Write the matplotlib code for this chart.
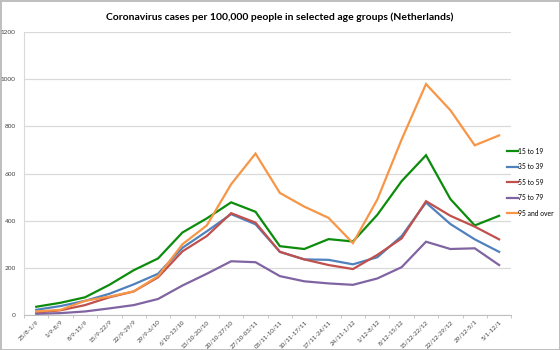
import numpy as np
import matplotlib
matplotlib.use("Agg")
import matplotlib.pyplot as plt

plt.rcParams["font.family"] = ["Lato", "DejaVu Sans"]

# weekly periods
weeks = ["25/8-1/9", "1/9-8/9", "8/9-15/9", "15/9-22/9", "22/9-29/9", "29/9-6/10",
         "6/10-13/10", "13/10-20/10", "20/10-27/10", "27/10-03/11", "03/11-10/11",
         "10/11-17/11", "17/11-24/11", "24/11-1/12", "1/12-8/12", "8/12-15/12",
         "15/12-22/12", "22/12-29/12", "29/12-5/1", "5/1-12/1"]

# cases per 100,000 by age group
age_15_19 = [35, 52, 75, 128, 190, 240, 350, 410, 478, 438, 292, 280, 322, 312,
             425, 568, 678, 492, 380, 421]
age_35_39 = [22, 38, 60, 90, 130, 175, 285, 355, 428, 385, 268, 236, 234, 215,
             245, 335, 477, 386, 321, 268]
age_55_59 = [10, 20, 42, 75, 100, 160, 270, 335, 432, 392, 268, 236, 212, 195,
             255, 325, 483, 421, 375, 321]
age_75_79 = [5, 8, 15, 28, 42, 68, 125, 175, 228, 224, 165, 143, 134, 128,
             155, 203, 311, 280, 283, 212]
age_95_up = [15, 22, 60, 78, 100, 165, 300, 380, 555, 685, 518, 460, 412, 305,
             490, 745, 980, 869, 720, 762]

series = [("15 to 19", age_15_19, "#0c8c0c"),
          ("35 to 39", age_35_39, "#4f81bd"),
          ("55 to 59", age_55_59, "#c0504d"),
          ("75 to 79", age_75_79, "#8064a2"),
          ("95 and over", age_95_up, "#f79646")]

fig = plt.figure(figsize=(5.6, 3.5), dpi=100)
fig.patch.set_edgecolor("#bfbfbf")
fig.patch.set_linewidth(2)
ax = fig.add_axes([0.043, 0.1, 0.87, 0.808])

x = np.arange(len(weeks))
for name, vals, col in series:
    ax.plot(x, vals, color=col, lw=1.6, label=name, solid_joinstyle="miter")

ax.set_xlim(-0.5, len(weeks) - 0.5)
ax.set_ylim(0, 1200)
ax.set_yticks(range(0, 1201, 200))
ax.yaxis.grid(True, color="#d9d9d9", lw=0.9)
ax.set_axisbelow(True)
ax.tick_params(axis="y", labelsize=4.6, length=0, pad=6, colors="#404040")

ax.set_xticks(x)
ax.set_xticklabels(weeks, rotation=45, ha="right", rotation_mode="anchor",
                   fontsize=4.5, color="#404040")
ax.tick_params(axis="x", length=0, pad=3)
ax.set_xticks(np.arange(len(weeks) + 1) - 0.5, minor=True)
ax.tick_params(axis="x", which="minor", length=2.5, color="#bfbfbf")

for s in ["top", "right"]:
    ax.spines[s].set_visible(False)
ax.spines["left"].set_color("#d9d9d9")
ax.spines["bottom"].set_color("#bfbfbf")

ax.legend(loc="center left", bbox_to_anchor=(0.985, 0.47), frameon=False,
          fontsize=4.9, handlelength=1.6, handletextpad=0.1, labelspacing=1.25,
          borderaxespad=0)

fig.suptitle("Coronavirus cases per 100,000 people in selected age groups (Netherlands)",
             fontsize=7.5, fontweight="bold", y=0.965)

fig.savefig("out.png", dpi=100)
